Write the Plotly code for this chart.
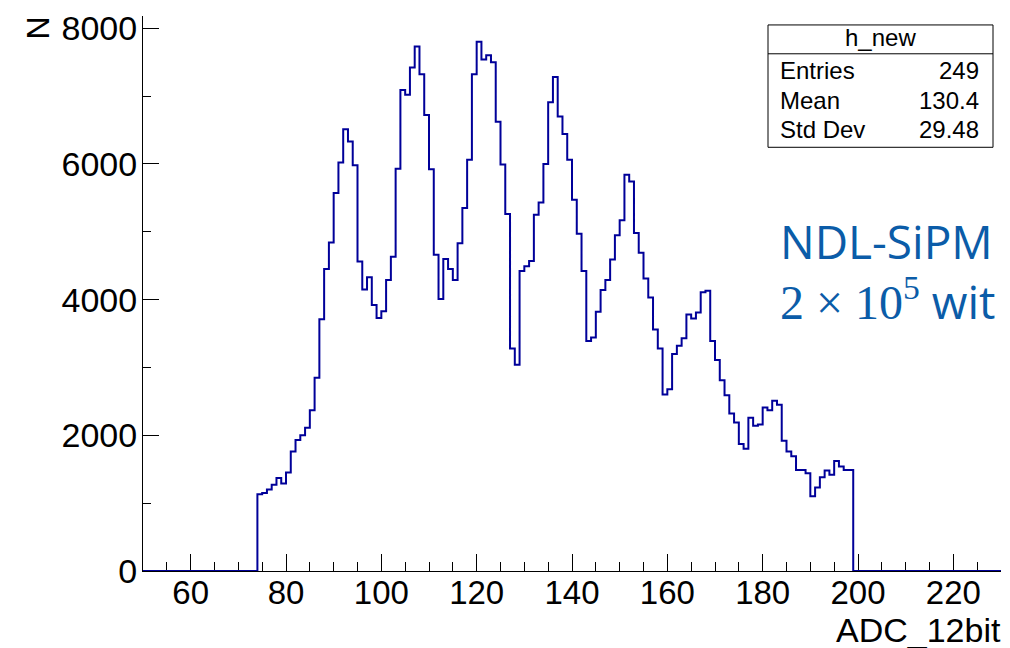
import plotly.graph_objects as go

# Histogram h_new: unit-width bins, filled from ADC 74 up to 199
first_bin = 74
counts = [
    1130, 1150, 1200, 1270, 1370, 1290, 1450, 1760, 1930, 2000,   # 74-83
    2110, 2370, 2850, 3710, 4450, 4840, 5570, 6020, 6510, 6330,   # 84-93
    5980, 4560, 4150, 4330, 3920, 3730, 3830, 4290, 4630, 5930,   # 94-103
    7090, 7020, 7420, 7730, 7320, 6720, 5920, 4660, 4010, 4600,   # 104-113
    4450, 4290, 4830, 5350, 6060, 7320, 7800, 7540, 7600, 7500,   # 114-123
    6620, 5990, 5260, 3280, 3040, 4420, 4490, 4570, 5250, 5430,   # 124-133
    6000, 6910, 7280, 6700, 6440, 6060, 5470, 4970, 4420, 3390,   # 134-143
    3440, 3820, 4140, 4290, 4590, 4950, 5170, 5840, 5740, 4980,   # 144-153
    4690, 4310, 4030, 3560, 3280, 2600, 2680, 3200, 3320, 3430,   # 154-163
    3780, 3720, 3810, 4110, 4130, 3390, 3110, 2810, 2590, 2320,   # 164-173
    2190, 1870, 1800, 2260, 2140, 2160, 2410, 2370, 2510, 2450,   # 174-183
    1920, 1760, 1690, 1490, 1490, 1440, 1100, 1230, 1380, 1480,   # 184-193
    1420, 1620, 1540, 1490, 1490,                                 # 194-198
]

x_min, x_max = 50, 230
y_max = 8180
x_ticks = [60, 80, 100, 120, 140, 160, 180, 200, 220]
y_ticks = [0, 2000, 4000, 6000, 8000]

stats_title = "h_new"
stats_rows = [("Entries", "249"), ("Mean", "130.4"), ("Std Dev", "29.48")]

# full set of bins across the axis range (empty bins drawn at zero)
edges = list(range(x_min, x_max + 1))
values = []
for lo in edges[:-1]:
    i = lo - first_bin
    values.append(counts[i] if 0 <= i < len(counts) else 0)
xs = edges
ys = values + [values[-1]]

fig = go.Figure()
fig.add_trace(go.Scatter(
    x=xs, y=ys, mode="lines", line=dict(shape="hv", color="#000099", width=2),
    cliponaxis=False, showlegend=False, hoverinfo="skip",
))

W, H = 1010, 648
ml, mr, mt, mb = 143, 9, 13, 77
pw, ph = W - ml - mr, H - mt - mb

def px(x):
    return (x - ml) / pw

def py(y):
    return (H - mb - y) / ph

FONT = "Liberation Sans, Arial, sans-serif"

fig.update_layout(
    width=W, height=H, margin=dict(l=ml, r=mr, t=mt, b=mb),
    paper_bgcolor="white", plot_bgcolor="white",
    font=dict(family=FONT, color="black"),
    xaxis=dict(
        range=[x_min, x_max], tickvals=x_ticks, ticks="inside", ticklen=17,
        tickcolor="black", tickwidth=1, showline=True, linecolor="black",
        linewidth=1, showgrid=False, zeroline=False, layer="below traces",
        tickfont=dict(size=33, family=FONT), ticklabelstandoff=-8,
        minor=dict(dtick=5, tick0=0, ticks="inside", ticklen=9,
                   tickcolor="black", tickwidth=1, showgrid=False),
    ),
    yaxis=dict(
        range=[0, y_max], tickvals=y_ticks, ticks="inside", ticklen=16,
        tickcolor="black", tickwidth=1, showline=True, linecolor="black",
        linewidth=1, showgrid=False, zeroline=False, layer="below traces",
        tickfont=dict(size=34, family=FONT), ticklabelstandoff=-2,
        minor=dict(dtick=1000, tick0=0, ticks="inside", ticklen=8,
                   tickcolor="black", tickwidth=1, showgrid=False),
    ),
)

annotations = []
# axis titles
annotations.append(dict(
    text="ADC_12bit", x=px(1003), y=py(630), xref="paper", yref="paper",
    xanchor="right", yanchor="middle", showarrow=False,
    font=dict(size=34, family=FONT),
))
annotations.append(dict(
    text="N", x=px(38), y=py(12), xref="paper", yref="paper",
    xanchor="center", yanchor="top", textangle=-90, showarrow=False,
    font=dict(size=32, family=FONT),
))

# statistics box
bx0, bx1, by0, by1, bdiv = 768, 993, 22, 145, 51
shapes = [
    dict(type="rect", xref="paper", yref="paper", x0=px(bx0), x1=px(bx1),
         y0=py(by1), y1=py(by0), line=dict(color="black", width=1),
         fillcolor="white", layer="above"),
    dict(type="line", xref="paper", yref="paper", x0=px(bx0), x1=px(bx1),
         y0=py(bdiv), y1=py(bdiv), line=dict(color="black", width=1),
         layer="above"),
]
annotations.append(dict(
    text=stats_title, x=px((bx0 + bx1) / 2), y=py(35), xref="paper",
    yref="paper", xanchor="center", yanchor="middle", showarrow=False,
    font=dict(size=24, family=FONT),
))
for k, (name, val) in enumerate(stats_rows):
    yy = py(68 + k * 29.5)
    annotations.append(dict(
        text=name, x=px(778), y=yy, xref="paper", yref="paper",
        xanchor="left", yanchor="middle", showarrow=False,
        font=dict(size=24, family=FONT),
    ))
    annotations.append(dict(
        text=val, x=px(981), y=yy, xref="paper", yref="paper",
        xanchor="right", yanchor="middle", showarrow=False,
        font=dict(size=24, family=FONT),
    ))

# detector label, two lines
BLUE = "#0b5ca8"
annotations.append(dict(
    text=('NDL-SiPM<br>'
          '<span style="font-family:Liberation Serif, serif;font-size:48px">'
          '2 × 10<sup>5</sup></span> wit'),
    x=px(778), y=py(269), xref="paper", yref="paper",
    xanchor="left", yanchor="middle", align="left", showarrow=False,
    font=dict(size=46, family="Open Sans, Liberation Sans, sans-serif", color=BLUE),
))

fig.update_layout(shapes=shapes, annotations=annotations)
fig.write_html("out.html")
